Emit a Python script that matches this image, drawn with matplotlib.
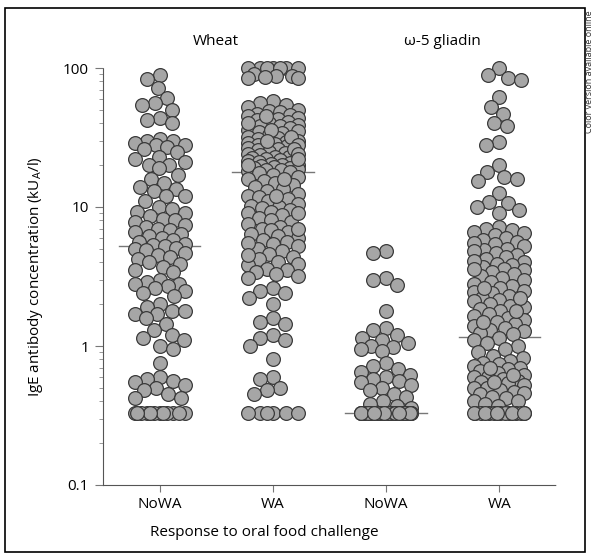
import numpy as np
import matplotlib
matplotlib.use("Agg")
import matplotlib.pyplot as plt
from matplotlib.patches import Rectangle

plt.rcParams['font.family'] = ['Open Sans', 'DejaVu Sans']

groups = ["NoWA", "WA", "NoWA", "WA"]
panel_titles = ["Wheat", "\u03c9-5 gliadin"]

wheat_nowa = [
    89, 83, 72, 61, 56, 54, 50, 44, 42, 40,
    31, 30, 30, 29, 28, 28, 27, 26, 25,
    23, 22, 21, 20, 20, 19, 17, 16, 15, 14, 13.5, 13, 12, 12, 11,
    10, 9.6, 9.2, 9, 8.6, 8.2, 8, 7.8, 7.4, 7.2, 7, 6.8, 6.6, 6.4, 6.2, 6,
    5.8, 5.6, 5.4, 5.3, 5.2, 5.1, 5, 4.9, 4.7, 4.5, 4.4, 4.2, 4, 3.9, 3.7,
    3.5, 3.4, 3.0, 2.9, 2.8, 2.8, 2.7, 2.6, 2.5, 2.4, 2.3,
    2.0, 1.9, 1.8, 1.8, 1.7, 1.7, 1.6,
    1.45, 1.3, 1.2, 1.15, 1.1, 1.0, 0.95,
    0.75, 0.6, 0.58, 0.56, 0.55, 0.52, 0.5, 0.48, 0.45, 0.42, 0.42,
    0.33, 0.33, 0.33, 0.33, 0.33, 0.33, 0.33, 0.33, 0.33, 0.33, 0.33, 0.33,
]

wheat_wa = [
    100, 100, 100, 100, 100, 100, 100, 90, 88, 87, 86, 85, 85,
    58, 56, 54, 52, 50, 49, 48, 47, 46, 45,
    44, 43, 42, 41, 40, 39, 38.5, 38, 37, 36,
    35, 34.5, 34, 33, 32, 31.5, 31, 30, 29.5, 29,
    28.5, 28, 27.5, 27, 26.5, 26, 25.5, 25, 24.5, 24,
    23.5, 23, 22.8, 22.5, 22, 21.8, 21.5, 21, 20.8, 20.5,
    20.2, 20, 19.8, 19.5, 19.2, 19, 18.8, 18.6, 18.4, 18.2,
    45, 40, 36, 32, 30, 28, 26, 24, 22, 20,
    17.8, 17.5, 17, 16.5, 16, 15.5, 15, 14.5, 14, 13.5,
    13, 12.5, 12, 11.8, 11.5, 11, 10.5, 10.2, 10, 9.8,
    9.5, 9.2, 9, 8.7, 8.4, 8.1, 7.8, 7.5, 7.2, 7,
    6.8, 6.6, 6.4, 6.2, 6, 5.8, 5.6, 5.4, 5.2, 5,
    4.8, 4.6, 4.4, 4.2, 4, 3.9, 3.8, 3.6, 3.5, 3.4,
    3.3, 3.2, 3.1, 16, 12, 9, 7, 5.5, 4.5,
    2.6, 2.5, 2.4, 2.2, 2.0, 1.6, 1.5, 1.45, 1.2, 1.15, 1.1, 1.0,
    0.8, 0.6, 0.58, 0.5, 0.48, 0.45,
    0.33, 0.33, 0.33, 0.33, 0.33, 0.33,
]

gliadin_nowa = [
    4.8, 4.7, 3.1, 3.0, 2.75, 1.8,
    1.35, 1.3, 1.2, 1.15, 1.1, 1.05, 1.0, 0.98, 0.95, 0.92,
    0.75, 0.72, 0.68, 0.65, 0.62, 0.6, 0.58, 0.56, 0.55,
    0.52, 0.5, 0.48, 0.45, 0.43, 0.4, 0.38, 0.37, 0.36,
    0.33, 0.33, 0.33, 0.33, 0.33, 0.33, 0.33, 0.33, 0.33, 0.33,
    0.33, 0.33, 0.33, 0.33, 0.33, 0.33, 0.33, 0.33, 0.33, 0.33,
    0.33, 0.33, 0.33, 0.33, 0.33, 0.33, 0.33, 0.33,
]

gliadin_wa = [
    100, 89, 85, 82, 62, 52, 47, 40, 38, 29.5, 28, 20, 18, 16.4, 16,
    15.4, 12.6, 10.9, 10.7, 10, 9.5, 9,
    7.2, 7.0, 6.8, 6.6, 6.5, 6.3,
    6, 5.8, 5.6, 5.4, 5.2, 5, 4.9, 4.7, 4.5, 4.4, 4.2, 4, 3.9, 3.8, 3.7,
    3.6, 3.5, 3.4, 3.3, 3.2, 3.1, 3.0, 5.5, 4.8, 4.1, 3.6,
    2.9, 2.8, 2.7, 2.6, 2.5, 2.45, 2.4, 2.3, 2.2, 2.15, 2.1, 2.0, 1.95,
    1.9, 1.85, 1.8, 1.7, 1.65, 1.6, 1.55, 1.5, 1.45, 1.4, 1.35, 1.3, 1.28,
    1.25, 1.22, 2.6, 2.2, 1.8, 1.5,
    1.15, 1.1, 1.05, 1.0, 0.95, 0.9, 0.85, 0.82,
    0.78, 0.76, 0.74, 0.72, 0.7, 0.68, 0.66, 0.64, 0.62, 0.6, 0.6, 0.58,
    0.56, 0.55, 0.54, 0.52, 0.5, 0.5, 0.48, 0.47, 0.46, 0.45, 0.7, 0.62, 0.55,
    0.43, 0.42, 0.4, 0.4, 0.38, 0.37,
    0.33, 0.33, 0.33, 0.33, 0.33, 0.33, 0.33, 0.33, 0.33, 0.33, 0.33, 0.33,
    0.33, 0.33, 0.33,
]

medians = [5.2, 18, 0.33, 1.17]
all_groups = [wheat_nowa, wheat_wa, gliadin_nowa, gliadin_wa]

W, H, DPI = 597, 560, 100
PX_PER_DECADE = 139.0
PX_PER_GROUP = 113.3
DIAM = 13.0
HALF_W = 25


def swarm(values):
    # place each dot where it overlaps least with the ones already placed
    ys = PX_PER_DECADE * np.log10(np.asarray(values, float))
    order = np.argsort(-ys, kind="stable")
    cand = np.arange(-HALF_W, HALF_W + 0.5, 1.0)
    px, py = [], []
    offs = np.zeros(len(ys))
    for i in order:
        y = ys[i]
        pen = np.zeros(len(cand))
        if px:
            ax_ = np.array(px)
            ay_ = np.array(py)
            near = np.abs(ay_ - y) < DIAM
            if near.any():
                dx = cand[:, None] - ax_[near][None, :]
                dy = y - ay_[near][None, :]
                d = np.sqrt(dx ** 2 + dy ** 2)
                pen = (np.clip(DIAM - d, 0, None) ** 2).sum(axis=1)
        pen = pen + 0.01 * np.abs(cand)
        best = cand[np.argmin(pen)]
        offs[i] = best
        px.append(best)
        py.append(y)
    return offs / PX_PER_GROUP


fig = plt.figure(figsize=(W / DPI, H / DPI), dpi=DPI)
ax = fig.add_axes([103 / W, 1 - 485 / H, (556 - 103) / W, (485 - 68) / H])

for k, vals in enumerate(all_groups):
    xo = swarm(vals)
    ax.scatter(k + xo, vals, s=98, facecolor="#a6a6a6", edgecolor="#3a3a3a",
               linewidth=0.9, zorder=3, clip_on=False)
    ax.plot([k - 0.36, k + 0.36], [medians[k]] * 2, color="#777777",
            lw=1.0, zorder=2)

ax.set_yscale("log")
ax.set_ylim(0.1, 100)
ax.set_xlim(-0.5, 3.5)
ax.set_xticks(range(4))
ax.set_xticklabels(groups, fontsize=11)
ax.set_yticks([0.1, 1, 10, 100])
ax.set_yticklabels(["0.1", "1", "10", "100"], fontsize=11)

for s in ["top", "right"]:
    ax.spines[s].set_visible(False)
for s in ["left", "bottom"]:
    ax.spines[s].set_linestyle((0, (1, 1)))
    ax.spines[s].set_color("#555555")
    ax.spines[s].set_linewidth(0.8)
ax.tick_params(axis="both", which="major", length=6, color="#777777",
               width=0.8, pad=4)
ax.tick_params(axis="y", which="minor", length=3, color="#999999", width=0.7)
ax.tick_params(axis="x", length=5)

ax.set_xlabel("Response to oral food challenge", fontsize=11)
ax.xaxis.set_label_coords((264 - 103) / 453, -0.095)
ax.set_ylabel("IgE antibody concentration (kU$_\\mathregular{A}$/l)",
              fontsize=11)
ax.yaxis.set_label_coords(-0.128, 0.5)

for j, t in enumerate(panel_titles):
    ax.text(0.5 + 2 * j, 1.045, t, transform=ax.get_xaxis_transform(),
            ha="center", va="bottom", fontsize=11)

fig.patches.append(Rectangle((5 / W, 8 / H), 580 / W, 544 / H, fill=False,
                             edgecolor="black", lw=1.2,
                             transform=fig.transFigure, figure=fig))
fig.text(590 / W, 1 - 10 / H, "Color version available online",
         rotation=90, ha="center", va="top", fontsize=6.5, color="#333333")

fig.savefig("out.png", dpi=DPI)
